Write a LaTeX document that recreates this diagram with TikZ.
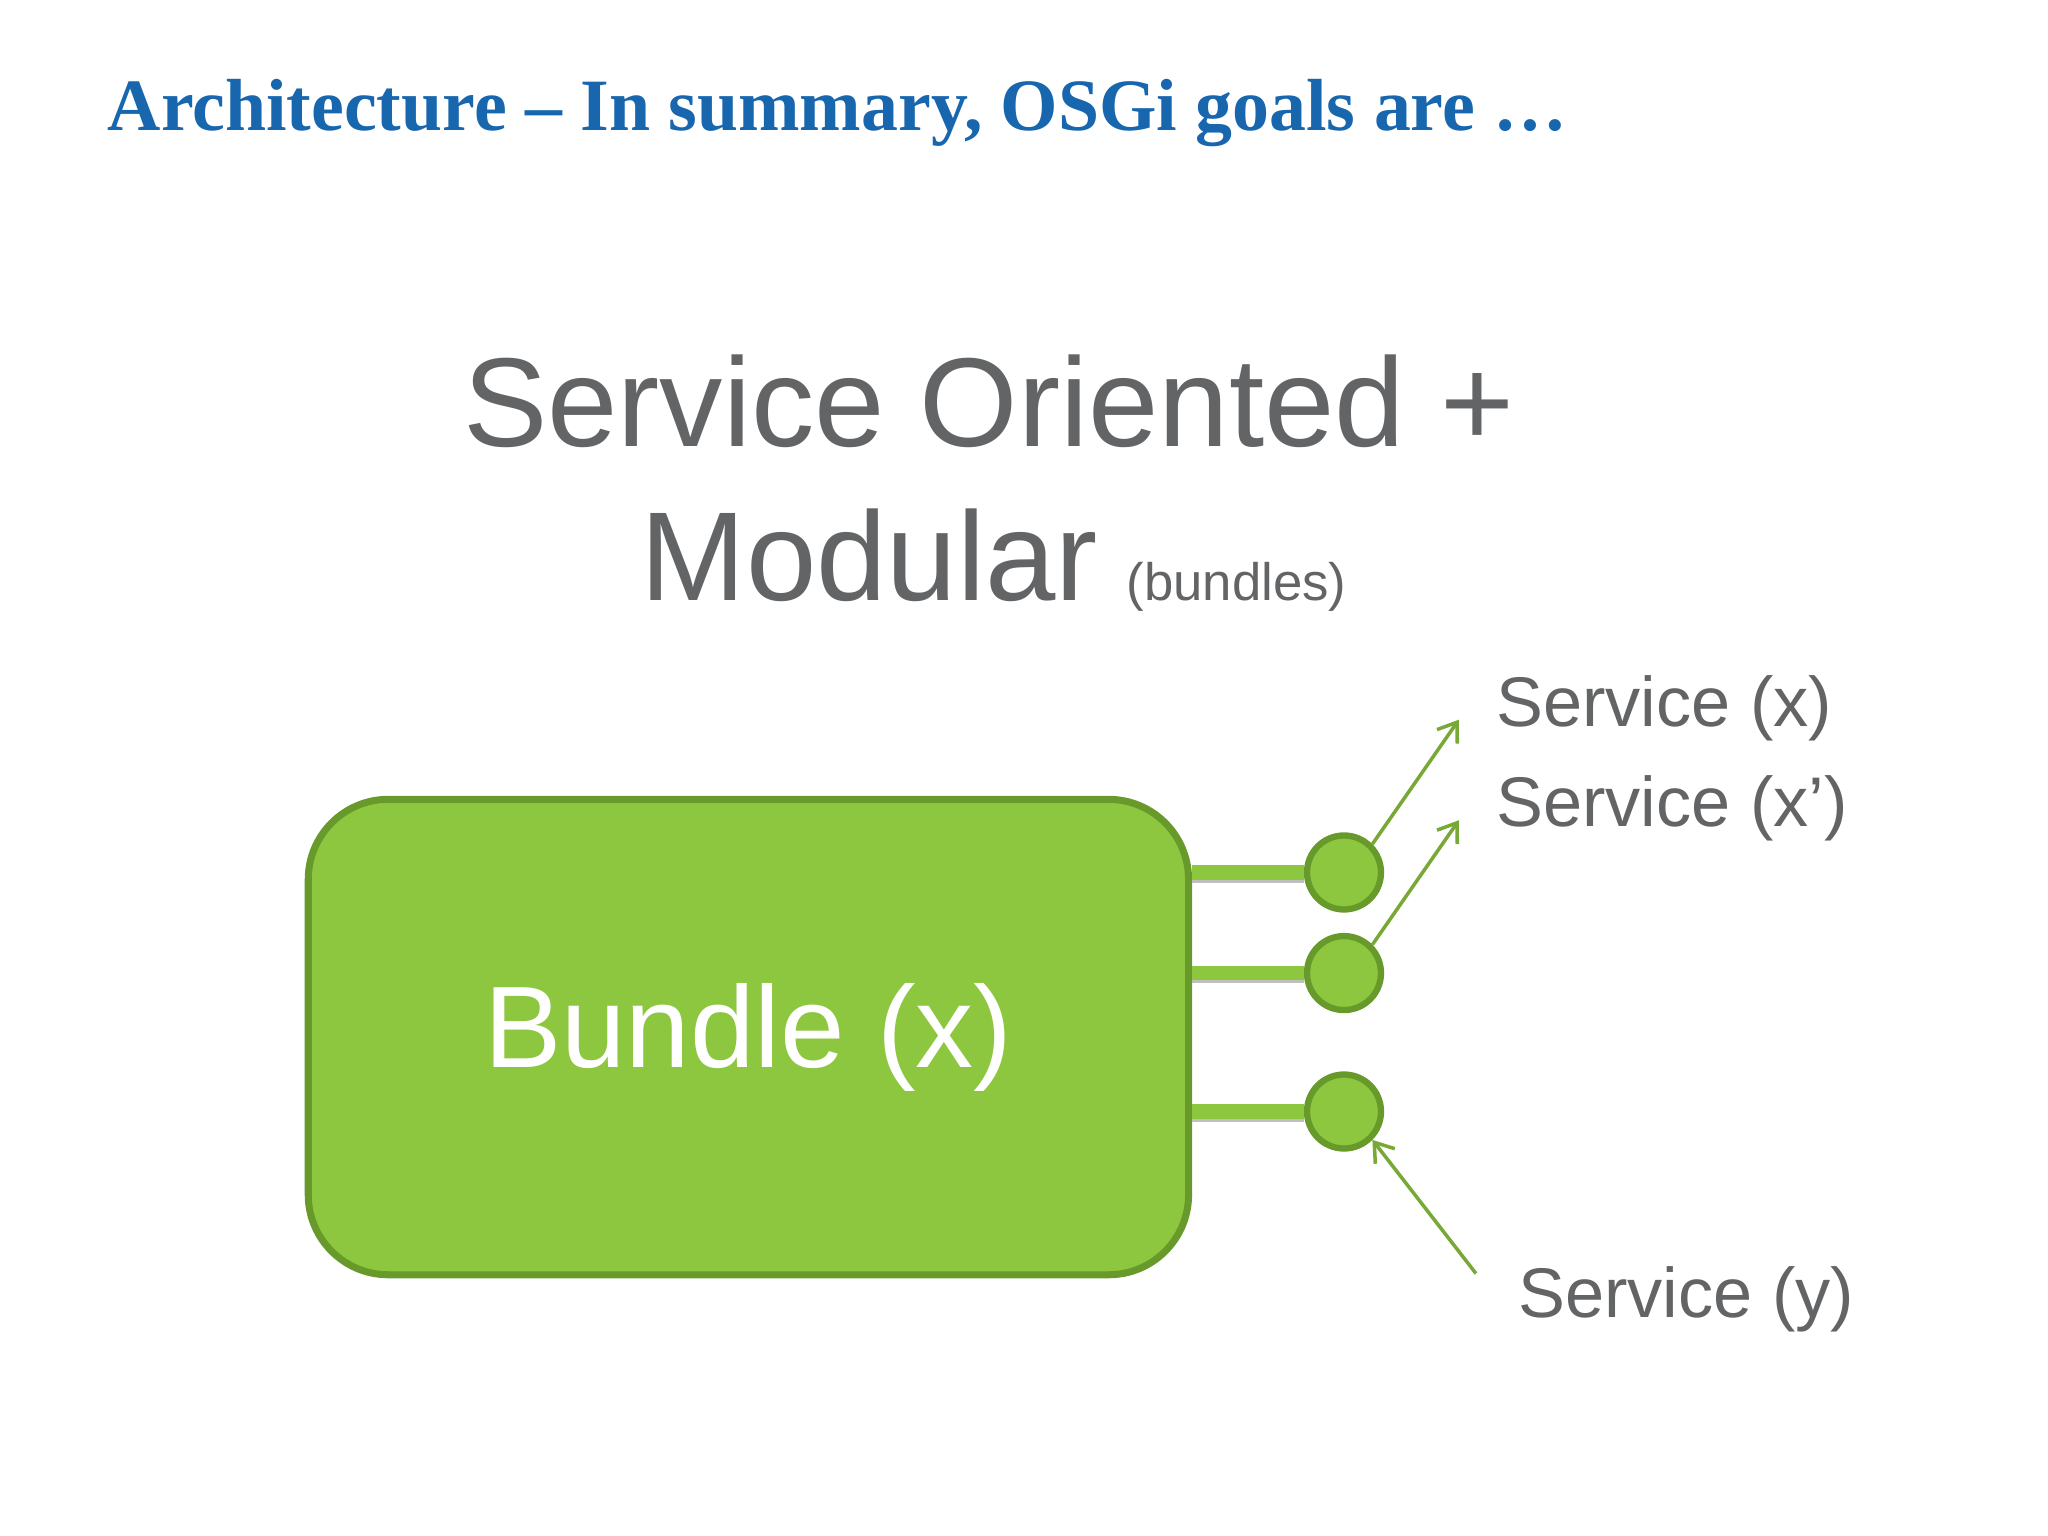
\documentclass[tikz,border=0pt]{standalone}
\usepackage{fontspec}
\setmainfont{Liberation Sans}
\newfontfamily\titlefont{Liberation Serif}
\usetikzlibrary{arrows.meta}
\definecolor{tblue}{HTML}{1766AE}
\definecolor{tgray}{HTML}{636466}
\definecolor{bfill}{HTML}{8DC63F}
\definecolor{bdraw}{HTML}{679A2B}
\begin{document}
\begin{tikzpicture}[x=0.01306cm,y=-0.01306cm,
  lbl/.style={text=tgray,font=\fontsize{20}{24}\selectfont,anchor=base west,inner sep=0},
  port/.style={circle,fill=bfill,draw=bdraw,line width=1.8pt,minimum size=0.74cm,inner sep=0},
  stub/.style={bfill,line width=4pt},
  shadow/.style={gray!50,line width=2pt},
  arr/.style={bfill!85!black,line width=1pt,-{Straight Barb[length=5pt,width=7pt]}}]
\useasboundingbox (0,0) rectangle (1568,1176);
\node[anchor=base west,inner sep=0,text=tblue,font=\titlefont\bfseries\fontsize{21}{25}\selectfont] (title) at (82,100) {Architecture – In summary, OSGi goals are …};
\node[anchor=base,inner sep=0,text=tgray,font=\fontsize{36}{40}\selectfont] (so) at (757,342) {Service Oriented +};
\node[anchor=base west,inner sep=0,text=tgray,font=\fontsize{36}{40}\selectfont] (mod) at (490,460) {Modular};
\node[anchor=base west,inner sep=0,text=tgray,font=\fontsize{15}{18}\selectfont] (bun) at (862,460) {(bundles)};
\node[draw=bdraw,fill=bfill,line width=2pt,rounded corners=0.8cm,minimum width=674*0.01306cm,minimum height=364*0.01306cm,inner sep=0,text=white,font=\fontsize{33}{40}\selectfont] (box) at (573,794) {\raisebox{-0.1cm}{Bundle (x)}};
\node[port] (p1) at (1029,668) {};
\node[port] (p2) at (1029,745) {};
\node[port] (p3) at (1029,851) {};
\foreach \p/\y in {p1/668,p2/745,p3/851}{
  \draw[shadow] (box.east |- 0,\y+5) -- (\p.west |- 0,\y+5);
  \draw[stub] (box.east |- 0,\y) -- (\p.west);
}
\node[lbl] (sx) at (1145,556) {Service (x)};
\node[lbl] (sx2) at (1145,633) {Service (x’)};
\node[lbl] (sy) at (1162,1009) {Service (y)};
\coordinate (a1) at (1117,551);
\coordinate (a2) at (1117,628);
\coordinate (a3) at (1130,975);
\draw[arr] (p1.north east) -- (a1);
\draw[arr] (p2.north east) -- (a2);
\draw[arr] (a3) -- (p3.south east);
\end{tikzpicture}
\end{document}
